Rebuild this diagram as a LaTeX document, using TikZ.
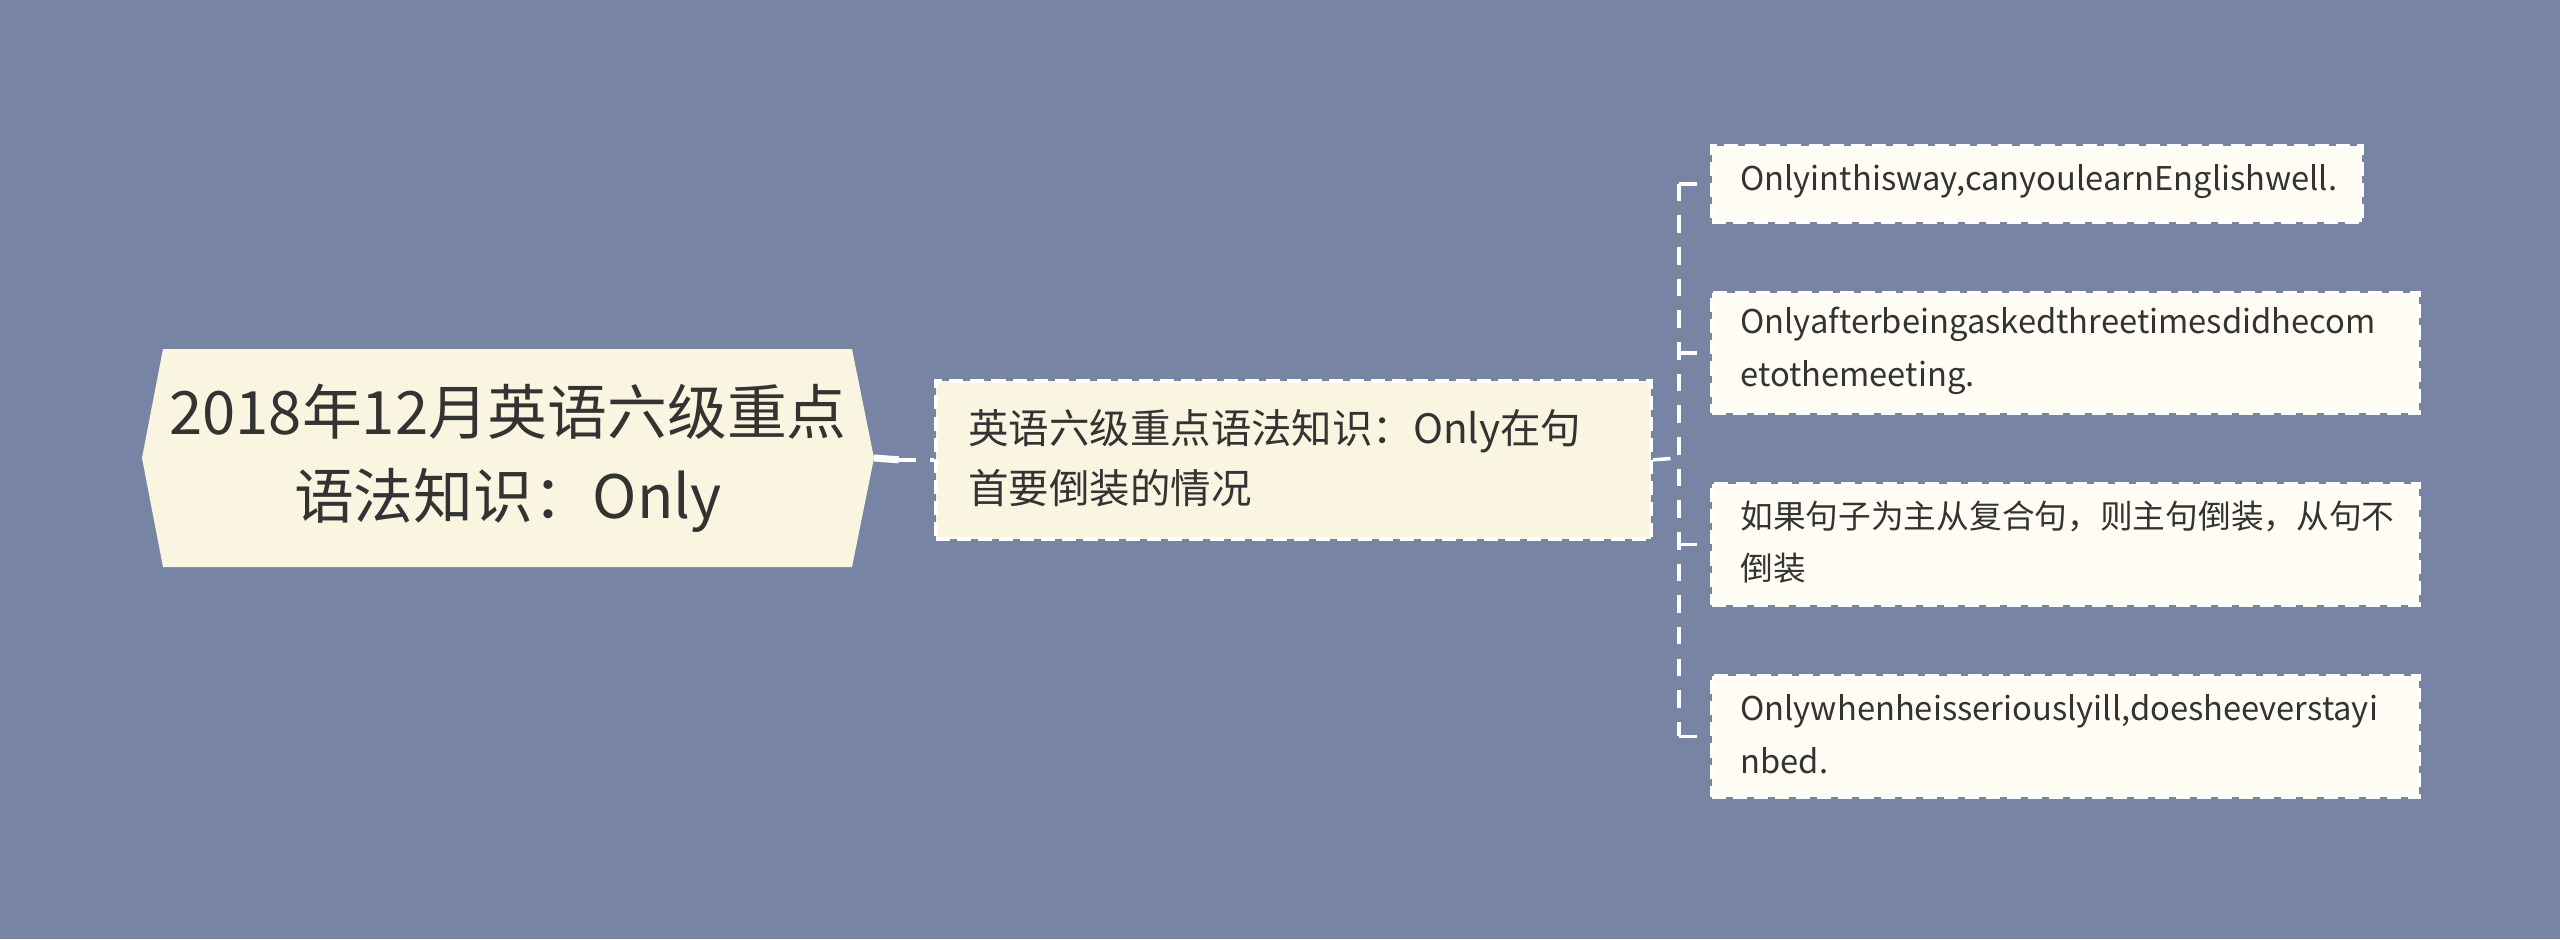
\documentclass[tikz,border=0pt]{standalone}
\usepackage{fontspec}
\setmainfont{Noto Sans CJK SC}
\usetikzlibrary{shapes.geometric}
\definecolor{bg}{HTML}{7784A3}
\definecolor{rootfill}{HTML}{FAF5E0}
\definecolor{leaffill}{HTML}{FFFDF3}
\definecolor{txt}{HTML}{333333}
\tikzset{
  box/.style={draw=white, dashed, line width=1pt, dash pattern=on 4pt off 2pt, text=txt, align=left, inner sep=0pt, anchor=north west},
  conn/.style={draw=white, line width=1pt, dash pattern=on 5pt off 4pt},
}
\begin{document}
\begin{tikzpicture}[x=0.01cm,y=-0.01cm]
\fill[bg] (0,0) rectangle (2560,939);
\useasboundingbox (0,0) rectangle (2560,939);
% root
\fill[rootfill] (142,458) -- (163,349) -- (852,349) -- (874,458) -- (852,567) -- (163,567) -- cycle;
\node[text=txt, align=center, font=\fontsize{17}{24}\selectfont] (root) at (508,458) {2018年12月英语六级重点\\语法知识：Only};
\coordinate (rootr) at (874,458);
% main
\node[box, fill=rootfill, minimum width=7.15cm, minimum height=1.58cm] (main) at (934,379) {};
\node[text=txt, align=left, anchor=west, font=\fontsize{11.5}{17}\selectfont] at (956,458) {英语六级重点语法知识：Only在句\\首要倒装的情况};
\draw[white, line width=2pt] (rootr) -- ([xshift=-10]main.west);
\draw[conn] ([xshift=-10]main.west) -- (main.west);
% leaves
\node[box, fill=leaffill, minimum width=6.5cm, minimum height=0.76cm] (l1) at (1710,144) {};
\node[text=txt, anchor=west, font=\fontsize{9.3}{14}\selectfont] at (1728,182) {Onlyinthisway,canyoulearnEnglishwell.};
\node[box, fill=leaffill, minimum width=7.07cm, minimum height=1.2cm] (l2) at (1710,291) {};
\node[text=txt, anchor=west, align=left, font=\fontsize{9.3}{15}\selectfont] at (1728,351) {Onlyafterbeingaskedthreetimesdidhecom\\etothemeeting.};
\node[box, fill=leaffill, minimum width=7.07cm, minimum height=1.21cm] (l3) at (1710,482) {};
\node[text=txt, anchor=west, align=left, font=\fontsize{9.3}{15}\selectfont] at (1728,542) {如果句子为主从复合句，则主句倒装，从句不\\倒装};
\node[box, fill=leaffill, minimum width=7.07cm, minimum height=1.21cm] (l4) at (1710,674) {};
\node[text=txt, anchor=west, align=left, font=\fontsize{9.3}{15}\selectfont] at (1728,734) {Onlywhenheisseriouslyill,doesheeverstayi\\nbed.};
\coordinate (vx) at (1679,458);
\draw[conn] (main.east) -- (vx);
\draw[conn] (vx |- l1.west) -- (vx |- l4.west);
\foreach \l in {l1,l2,l3,l4} \draw[conn] (vx |- \l.west) -- (\l.west);
\end{tikzpicture}
\end{document}
